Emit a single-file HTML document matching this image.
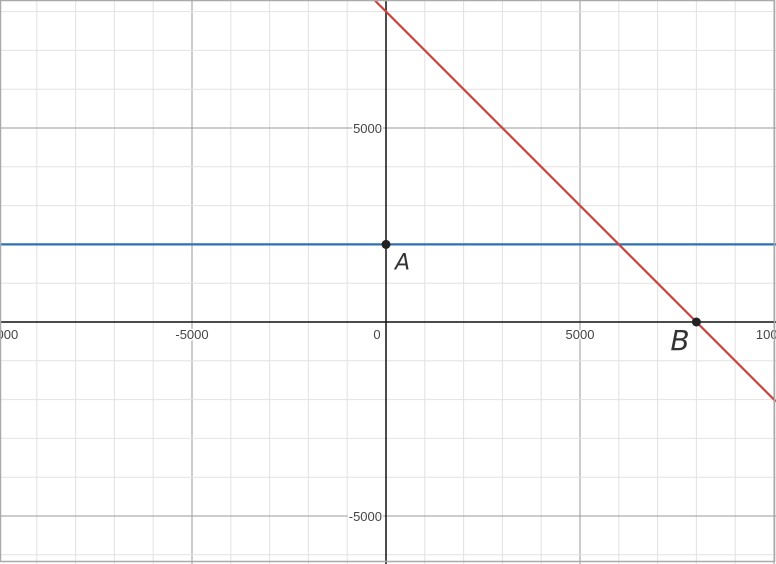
<!DOCTYPE html>
<html><head><meta charset="utf-8"><style>
html,body{margin:0;padding:0;background:#fff;width:776px;height:564px;overflow:hidden;font-family:"Liberation Sans",sans-serif}
</style></head><body>
<svg id="g" width="776" height="564" xmlns="http://www.w3.org/2000/svg" style="display:block"></svg>
<script>
const xTicks=[-10000,-5000,0,5000,10000];
const yTicks=[5000,-5000];
const xTickLabels=["-10000","-5000","0","5000","10000"];
const yTickLabels=["5000","-5000"];
const blueY=[2000];
const redIntercept=[8000];
const redSlope=[-1];
const pointsX=[0,8000];
const pointsY=[2000,0];
const pointLabels=["A","B"];
const ox=386, oy=322, k=194/5000;
const sx=v=>ox+v*k, sy=v=>oy-v*k;
const svg=document.getElementById('g');
const NS='http://www.w3.org/2000/svg';
function mk(t,a,name){const e=document.createElementNS(NS,t);for(const q in a)e.setAttribute(q,a[q]);


svg.appendChild(e);return e;}
const xmin=-(ox)/k, xmax=(776-ox)/k, ymax=oy/k, ymin=-(564-oy)/k;
for(let v=Math.ceil(xmin/1000)*1000;v<=xmax;v+=1000){
 const maj=v%5000===0; mk('line',{x1:sx(v),x2:sx(v),y1:0,y2:564,stroke:maj?'#9a9a9a':'#e2e2e2','stroke-width':1},'x-grid-line');}
for(let v=Math.ceil(ymin/1000)*1000;v<=ymax;v+=1000){
 const maj=v%5000===0; mk('line',{x1:0,x2:776,y1:sy(v),y2:sy(v),stroke:maj?'#9a9a9a':'#e2e2e2','stroke-width':1},'y-grid-line');}
mk('line',{x1:0,x2:776,y1:oy,y2:oy,stroke:'#111','stroke-width':1.5},'x-axis');
mk('line',{x1:ox,x2:ox,y1:0,y2:564,stroke:'#111','stroke-width':1.5},'y-axis');
xTicks.forEach((v,i)=>{const t=mk('text',{x:v===0?sx(v)-9:sx(v),y:oy+17,'font-size':13,fill:'#444','text-anchor':'middle','stroke':'#fff','stroke-width':3,'paint-order':'stroke'},'x-tick-label');t.textContent=xTickLabels[i];});
yTicks.forEach((v,i)=>{const t=mk('text',{x:ox-4,y:sy(v)+5,'font-size':13,fill:'#444','text-anchor':'end','stroke':'#fff','stroke-width':3,'paint-order':'stroke'},'y-tick-label');t.textContent=yTickLabels[i];});
mk('line',{x1:0,x2:776,y1:sy(blueY[0]),y2:sy(blueY[0]),stroke:'#2d70b3','stroke-width':2.2},'blue-line');
mk('line',{x1:sx(xmin),x2:sx(xmax),y1:sy(redIntercept[0]+redSlope[0]*xmin),y2:sy(redIntercept[0]+redSlope[0]*xmax),stroke:'#c74440','stroke-width':2.2},'red-line');
pointsX.forEach((v,i)=>{mk('circle',{cx:sx(v),cy:sy(pointsY[i]),r:4.5,fill:'#222'},'point-'+pointLabels[i].toLowerCase());
 const t=mk('text',{x:sx(v)+(i===0?9:-26),y:sy(pointsY[i])+(i===0?25:28),'font-size':i===0?22:28,fill:'#333','font-style':'italic','font-family':'DejaVu Sans, sans-serif'},'point-label-'+pointLabels[i].toLowerCase());t.textContent=pointLabels[i];});
mk('rect',{x:0.5,y:0.5,width:774,height:561,fill:'none',stroke:'#aaa','stroke-width':1.5},'frame');
</script>
</body></html>
